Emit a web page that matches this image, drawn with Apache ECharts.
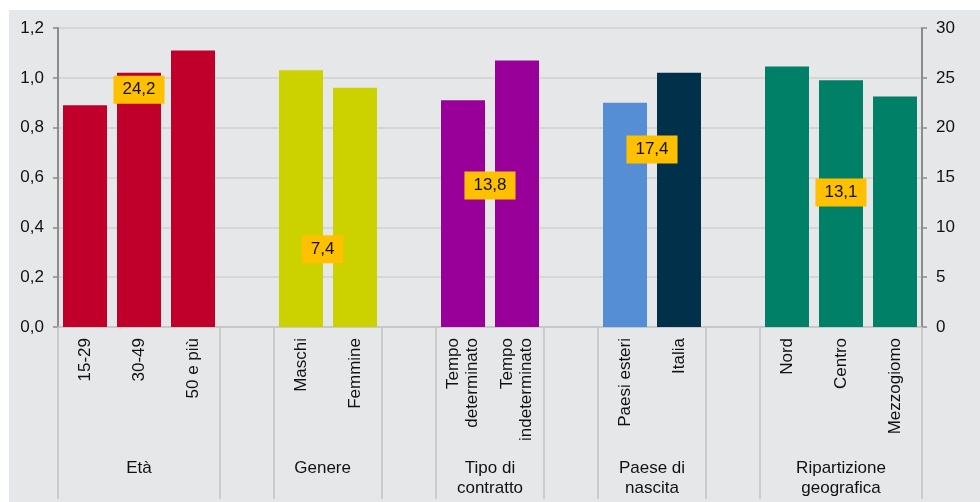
<!DOCTYPE html>
<html><head><meta charset="utf-8">
<script src="https://cdn.jsdelivr.net/npm/echarts@6/dist/echarts.min.js"></script>
<style>html,body{margin:0;padding:0;background:#fff}#c{width:980px;height:502px}</style>
</head><body><div id="c"></div>
<script>
// Categories (empty strings are the gaps between groups)
const categories = ['15-29','30-49','50 e più','', 'Maschi','Femmine','', 'Tempo\ndeterminato','Tempo\nindeterminato','', 'Paesi esteri','Italia','', 'Nord','Centro','Mezzogiomo'];
// Bar values (left axis)
const barValues = [0.89,1.02,1.11,null, 1.03,0.96,null, 0.91,1.07,null, 0.90,1.02,null, 1.045,0.99,0.925];
const barColors = ['#C0002A','#C0002A','#C0002A',null, '#CCD100','#CCD100',null, '#990099','#990099',null, '#558ED5','#00304A',null, '#008066','#008066','#008066'];
// Groups
const groupNames = ['Età','Genere','Tipo di\ncontratto','Paese di\nnascita','Ripartizione\ngeografica'];
const groupPos = [1.5, 4.9, 8, 11, 14.5];
const groupBounds = [0,3,4,6,7,9,10,12,13,16];
// Highlighted values (right axis)
const groupValues = [24.2, 7.4, 13.8, 17.4, 13.1];
const leftTicks = {min:0, max:1.2, interval:0.2};
const rightTicks = {min:0, max:30, interval:5};

const chart = echarts.init(document.getElementById('c'));
const txt = '#111111';
const ff = "'Liberation Sans', Arial, sans-serif";
chart.setOption({
  animation:false,
  graphic:[{type:'rect', left:9, top:10, shape:{width:971, height:492}, style:{fill:'#E6E7E9'}, z:-10}],
  grid:{left:58, right:58, top:28, bottom:175},
  xAxis:[{
    type:'category', data:categories, position:'bottom',
    axisLine:{show:true, lineStyle:{color:'#C4C4C4', width:1.5}},
    axisTick:{show:false},
    axisLabel:{rotate:90, margin:11, color:txt, fontSize:17, fontFamily:ff, lineHeight:19, interval:0}
  },{
    type:'value', min:0, max:16, position:'bottom',
    axisLine:{show:false}, splitLine:{show:false},
    axisTick:{show:true, inside:false, length:172, customValues:groupBounds, lineStyle:{color:'#C4C4C4', width:1.5}},
    axisLabel:{show:true, customValues:groupPos, margin:131, color:txt, fontSize:17, fontFamily:ff, lineHeight:20,
      formatter:function(v){const i=groupPos.indexOf(v); return i>=0?groupNames[i]:'';}}
  }],
  yAxis:[{
    type:'value', min:leftTicks.min, max:leftTicks.max, interval:leftTicks.interval, position:'left',
    axisLine:{show:true, lineStyle:{color:'#8C8C8C', width:2}},
    axisTick:{show:true, length:5, lineStyle:{color:'#8C8C8C', width:1.5}},
    splitLine:{show:true, lineStyle:{color:'#D6D6D6', width:2}},
    axisLabel:{margin:14, color:txt, fontSize:17, fontFamily:ff,
      formatter:function(v){return v.toFixed(1).replace('.',',');}}
  },{
    type:'value', min:rightTicks.min, max:rightTicks.max, interval:rightTicks.interval, position:'right',
    axisLine:{show:true, lineStyle:{color:'#8C8C8C', width:2}},
    axisTick:{show:true, length:5, lineStyle:{color:'#8C8C8C', width:1.5}},
    splitLine:{show:false},
    axisLabel:{margin:14, color:txt, fontSize:17, fontFamily:ff}
  }],
  series:[{
    type:'bar', xAxisIndex:0, yAxisIndex:0, barWidth:44,
    data:barValues.map((v,i)=>({value:v, itemStyle:{color:barColors[i]}}))
  },{
    type:'scatter', xAxisIndex:1, yAxisIndex:1, symbolSize:0, z:10,
    itemStyle:{opacity:1},
    data:groupValues.map((v,i)=>({value:[groupPos[i], v], label:{offset:[0, i===0 ? 4 : -4]}})),
    label:{show:true, position:'inside', color:txt, fontSize:17, fontFamily:ff,
      backgroundColor:'#FFC000', padding:[5,9], lineHeight:18,
      formatter:function(p){return String(p.value[1]).replace('.',',');}}
  }]
});
</script></body></html>
